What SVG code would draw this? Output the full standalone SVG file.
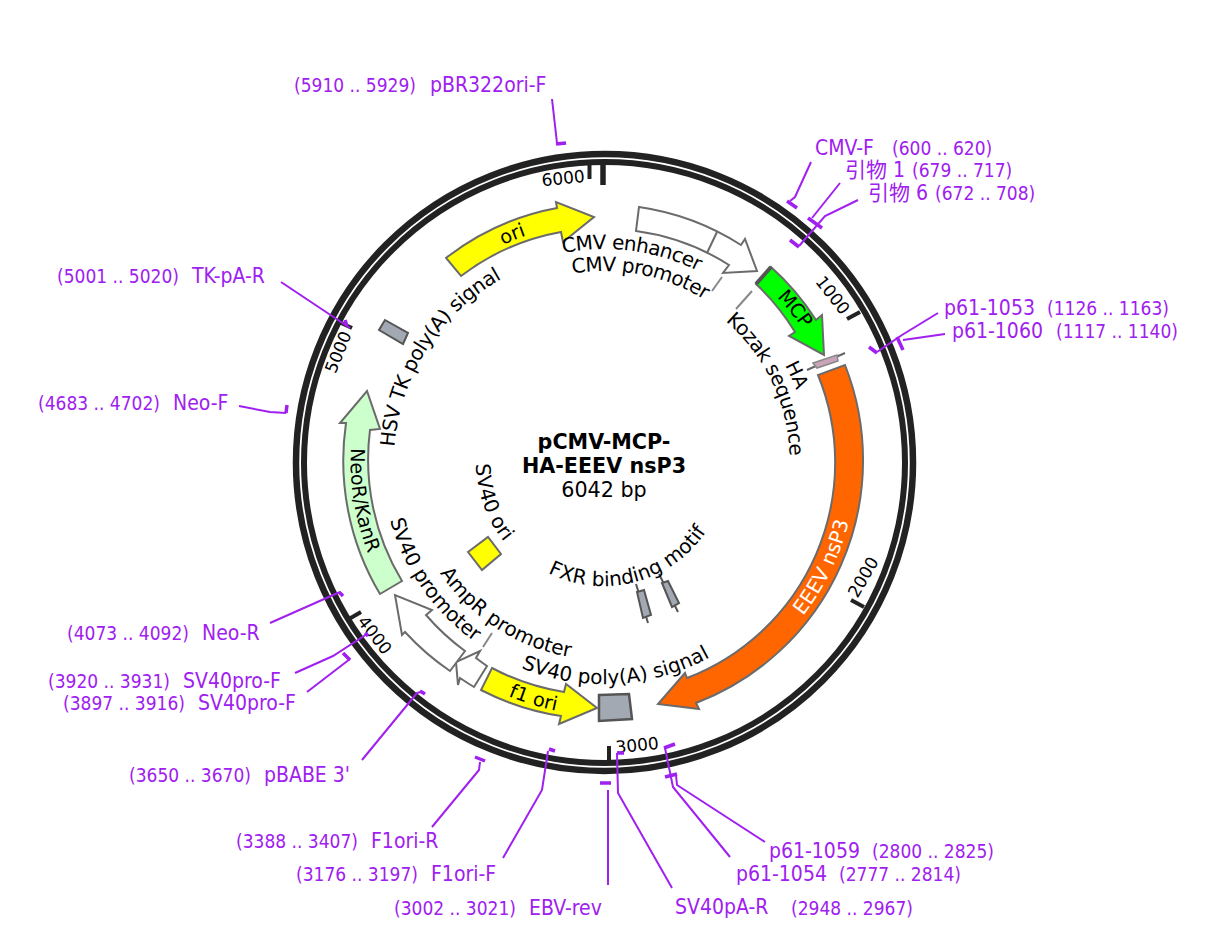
<svg xmlns="http://www.w3.org/2000/svg" width="1218" height="941" viewBox="0 0 1218 941">
<style>
text{font-family:"DejaVu Sans","Noto Sans CJK SC",sans-serif;fill:#000}
.f{stroke:#6b6b6b;stroke-width:2;stroke-linejoin:miter}
.g{fill:#a3a9b3;stroke:#555;stroke-width:2}
.l{font-size:20px}
.o{font-size:20px;letter-spacing:-.6px}
.i{font-size:19.3px}
.t{font-size:17px;text-anchor:middle}
.c{font-size:20.7px;text-anchor:middle}
.n{font-family:"DejaVu Sans Condensed","DejaVu Sans","Noto Sans CJK SC",sans-serif;font-stretch:condensed;font-size:21px;fill:#a020f0}
.p{font-family:"DejaVu Sans Condensed","DejaVu Sans",sans-serif;font-stretch:condensed;font-size:19px;fill:#a020f0}
.pl{fill:none;stroke:#a020f0;stroke-width:2}
.b{fill:none;stroke:#a020f0;stroke-width:3.5}
.d{stroke:#888;stroke-width:2;fill:none}
.k{stroke:#222;stroke-width:4;fill:none}
</style>
<defs>
<path id="a1" d="M563,253 A213 213 0 0 1 741,299"/>
<path id="a2" d="M572.5,273.6 A191 191 0 0 1 739,327"/>
<path id="a3" d="M725.5,321 A186 186 0 0 1 787,494"/>
<path id="a4" d="M394.5,447 A210 210 0 0 1 532,265"/>
<path id="a5" d="M521,668 A222 222 0 0 0 747,632"/>
<path id="a6" d="M440,573 A198 198 0 0 0 672,648"/>
<path id="a7" d="M390,520 A222 222 0 0 0 547,676"/>
<path id="a8" d="M351,448 A253 253 0 0 0 387,592"/>
<path id="a9" d="M508,696 A254 254 0 0 0 664,709"/>
<path id="a10" d="M548,573 A124 124 0 0 0 717,512"/>
<path id="a11" d="M476,464 A128 128 0 0 0 544,575"/>
<path id="a12" d="M803,616 A252 252 0 0 0 856,462"/>
<path id="a13" d="M777,297 A239 239 0 0 1 811,342"/>
<path id="a14" d="M503,245 A240 240 0 0 1 604,222"/>
<path id="a15" d="M785,365 A205 205 0 0 1 809,462"/>
</defs>
<g id="backbone" fill="none" stroke="#222">
<circle cx="604.5" cy="462.5" r="308.5" stroke-width="6.5"/>
<circle cx="604.5" cy="462.5" r="300.5" stroke-width="6"/>
<path id="origin-tick" d="M603,165V185" stroke-width="5.5"/>
</g>
<g id="ticks">
<path class="k" d="M589.5,165V179"/><path class="k" d="M847,319L860,312"/><path class="k" d="M851,600L864,607"/><path class="k" d="M609,746V760"/><path class="k" d="M361,612L349,619"/><path class="k" d="M352,328L339,322"/>
<text class="t" dy=".36em" transform="translate(563,178) rotate(-6)">6000</text>
<text class="t" dy=".36em" transform="translate(833,295) rotate(52)">1000</text>
<text class="t" dy=".36em" transform="translate(863,577) rotate(-60)">2000</text>
<text class="t" dy=".36em" transform="translate(637,745) rotate(-6)">3000</text>
<text class="t" dy=".36em" transform="translate(375,635) rotate(52)">4000</text>
<text class="t" dy=".36em" transform="translate(338,352) rotate(-68)">5000</text>
</g>
<g id="ori"><path class="f" fill="#ff0" d="M446,258 A258 258 0 0 1 557,208 L556,202 L594,217 L563,242 L561,232 A234 234 0 0 0 461,276 Z"/><text class="i"><textPath href="#a14">ori</textPath></text></g>
<g id="cmv"><path class="f" fill="#fff" d="M639,207 A257 257 0 0 1 741,245 L745,239 L757,271 L723,273 L729,265 A230 230 0 0 0 636,231 Z"/><path class="f" fill="none" d="M717,232L707,253"/><text class="o"><textPath href="#a1">CMV enhancer</textPath></text><text class="o"><textPath href="#a2">CMV promoter</textPath></text><path class="d" d="M722,277L712,291"/></g>
<g id="kozak"><path class="d" d="M752,291L736,309"/><text class="o"><textPath href="#a3">Kozak sequence</textPath></text></g>
<g id="mcp"><path class="f" fill="#0f0" d="M771,267 A257 257 0 0 1 816,320 L822,315 L824,355 L789,336 L795,332 A232 232 0 0 0 756,284 Z"/><path d="M771,267L756,284" stroke="#555" stroke-width="4"/><text class="i" style="letter-spacing:-.5px"><textPath href="#a13">MCP</textPath></text></g>
<g id="ha"><path d="M807,370L845,353" stroke="#666" stroke-width="2"/><path d="M813,363L837,355L838,361L817,368Z" fill="#cba3b9" stroke="#888" stroke-width="1.5"/><text class="i"><textPath href="#a15">HA</textPath></text></g>
<g id="eeev"><path class="f" fill="#f60" d="M845,365 A260 260 0 0 1 696,703 L699,709 L658,704 L685,673 L687,678 A231 231 0 0 0 818,375 Z"/><text class="l" style="fill:#fff"><textPath href="#a12">EEEV nsP3</textPath></text></g>
<g id="sv40pa"><path class="g" style="stroke-width:2.5" d="M599,695L629,694L632,719L599,721Z"/><text class="l"><textPath href="#a5">SV40 poly(A) signal</textPath></text></g>
<g id="f1ori"><path class="f" fill="#ff0" d="M481,690 A258 258 0 0 0 561,716 L559,724 L597,708 L566,684 L564,692 A233 233 0 0 1 492,668 Z"/><text class="i"><textPath href="#a9">f1 ori</textPath></text></g>
<g id="ampr"><path class="f" fill="#fff" d="M474,687 A258 258 0 0 1 460,678 L458,685 L456,662 L480,651 L476,658 A234 234 0 0 0 487,666 Z"/><path class="d" d="M492,633L483,647"/><text class="l"><textPath href="#a6">AmpR promoter</textPath></text></g>
<g id="sv40pro"><path class="f" fill="#fff" d="M450,671 A258 258 0 0 1 405,632 L402,635 L395,595 L432,610 L426,615 A234 234 0 0 0 465,651 Z"/><text class="l"><textPath href="#a7">SV40 promoter</textPath></text></g>
<g id="neor"><path class="f" fill="#cfc" d="M380,594 A260 260 0 0 1 346,423 L340,423 L367,391 L380,429 L370,430 A234 234 0 0 0 402,581 Z"/><text class="i"><textPath href="#a8">NeoR/KanR</textPath></text></g>
<g id="hsvtk"><path class="g" d="M385,320L408,333L403,344L379,330Z"/><text class="o" style="letter-spacing:-.45px"><textPath href="#a4">HSV TK poly(A) signal</textPath></text></g>
<g id="sv40ori"><path d="M468,552L488,537L501,554L482,570Z" fill="#ff0" stroke="#6b6b6b" stroke-width="2"/><text class="l"><textPath href="#a11">SV40 ori</textPath></text></g>
<g id="fxr"><path d="M636,584L648,623M659,574L678,612" stroke="#555" stroke-width="2"/><path class="g" d="M637,592L644,590L651,615L643,618Z"/><path class="g" d="M662,583L668,581L679,603L672,607Z"/><text class="l"><textPath href="#a10">FXR binding motif</textPath></text></g>
<g id="title"><text class="c" x="604" y="449" font-weight="bold">pCMV-MCP-</text><text class="c" x="604" y="473" font-weight="bold">HA-EEEV nsP3</text><text class="c" x="604" y="497">6042 bp</text></g>
<g id="connectors">
<path class="pl" d="M552,99L557,143"/><path class="b" d="M556,144L566,143"/>
<path class="pl" d="M811,162L795,197L790,201"/><path class="b" d="M787,201L797,208"/>
<path class="pl" d="M840,183L812,218"/><path class="b" d="M808,218L822,228"/>
<path class="pl" d="M858,200L825,216L799,246"/><path class="b" d="M790,240L799,247"/>
<path class="pl" d="M938,313L902,335L877,352"/><path class="b" d="M869,347L877,353"/>
<path class="pl" d="M945,334L903,340"/><path class="b" d="M897,337L903,350"/>
<path class="pl" d="M281,282L350,328"/><path class="b" d="M345,320L347,326"/>
<path class="pl" d="M239,406L270,412L286,413"/><path class="b" d="M287,405L286,413"/>
<path class="pl" d="M270,623L340,592"/><path class="b" d="M339,592L343,596"/>
<path class="pl" d="M295,673L333,656L367,634"/><path class="b" d="M365,633L368,636"/>
<path class="pl" d="M307,692L350,659"/><path class="b" d="M343,653L350,660"/>
<path class="pl" d="M362,760L417,693L421,692"/><path class="b" d="M420,691L425,694"/>
<path class="pl" d="M432,827L479,770L480,762"/><path class="b" d="M475,757L485,761"/>
<path class="pl" d="M503,858L542,790L548,751"/><path class="b" d="M549,749L555,751"/>
<path class="pl" d="M608,885V790"/><path class="b" d="M600,783L611,783"/>
<path class="pl" d="M672,888L618,793L617,753"/><path class="b" d="M617,753L624,753"/>
<path class="pl" d="M765,842L677,785L676,775"/><path class="b" d="M665,777L677,774"/>
<path class="pl" d="M730,857L673,787L665,748"/><path class="b" d="M664,748L675,744"/>
</g>
<g id="primers">
<text class="p" x="294" y="92">(5910 .. 5929)</text><text class="n" x="430" y="92">pBR322ori-F</text>
<text class="n" x="815" y="155">CMV-F</text><text class="p" x="892" y="155">(600 .. 620)</text>
<text class="n" x="845" y="177">引物 1</text><text class="p" x="912" y="177">(679 .. 717)</text>
<text class="n" x="868" y="200">引物 6</text><text class="p" x="935" y="200">(672 .. 708)</text>
<text class="p" x="57" y="283">(5001 .. 5020)</text><text class="n" x="192" y="283">TK-pA-R</text>
<text class="n" x="944" y="315">p61-1053</text><text class="p" x="1047" y="315">(1126 .. 1163)</text>
<text class="n" x="952" y="338">p61-1060</text><text class="p" x="1056" y="338">(1117 .. 1140)</text>
<text class="p" x="38" y="410">(4683 .. 4702)</text><text class="n" x="173" y="410">Neo-F</text>
<text class="p" x="67" y="640">(4073 .. 4092)</text><text class="n" x="202" y="640">Neo-R</text>
<text class="p" x="48" y="688">(3920 .. 3931)</text><text class="n" x="183" y="688">SV40pro-F</text>
<text class="p" x="63" y="710">(3897 .. 3916)</text><text class="n" x="198" y="710">SV40pro-F</text>
<text class="p" x="129" y="782">(3650 .. 3670)</text><text class="n" x="264" y="782">pBABE 3'</text>
<text class="p" x="236" y="848">(3388 .. 3407)</text><text class="n" x="371" y="848">F1ori-R</text>
<text class="p" x="296" y="881">(3176 .. 3197)</text><text class="n" x="431" y="881">F1ori-F</text>
<text class="p" x="394" y="915">(3002 .. 3021)</text><text class="n" x="529" y="915">EBV-rev</text>
<text class="n" x="675" y="914">SV40pA-R</text><text class="p" x="791" y="915">(2948 .. 2967)</text>
<text class="n" x="769" y="858">p61-1059</text><text class="p" x="872" y="858">(2800 .. 2825)</text>
<text class="n" x="736" y="881">p61-1054</text><text class="p" x="839" y="881">(2777 .. 2814)</text>
</g>
</svg>
